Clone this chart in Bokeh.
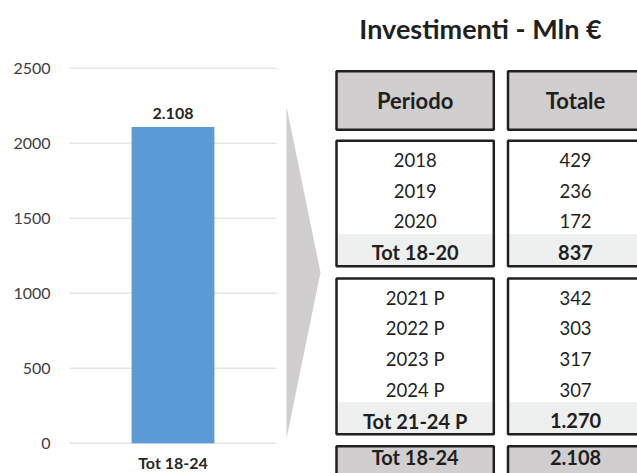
from bokeh.plotting import figure
from bokeh.models import Range1d, ColumnDataSource, FixedTicker, LinearAxis
from bokeh.core.properties import value
from bokeh.embed import file_html
from bokeh.resources import INLINE

# ---------------- data ----------------
categories = ["Tot 18-24"]
investimenti = [2108]
y_ticks = [0, 500, 1000, 1500, 2000, 2500]

title_text = "Investimenti - Mln €"
header_labels = ["Periodo", "Totale"]

periodi_1 = ["2018", "2019", "2020"]
totali_1 = [429, 236, 172]
tot_label_1 = "Tot 18-20"
tot_value_1 = 837

periodi_2 = ["2021 P", "2022 P", "2023 P", "2024 P"]
totali_2 = [342, 303, 317, 307]
tot_label_2 = "Tot 21-24 P"
tot_value_2 = 1270

grand_label = "Tot 18-24"
grand_value = 2108


def fmt(v):
    return f"{v:,}".replace(",", ".")


FONT = "Lato"
TXT = "#1f1f1f"
BORDER = "#231f20"
HEAD_FILL = "#d0cece"
SHADE_FILL = "#eef0ef"

W, H = 637, 473
LEFT = 69
p = figure(width=W, height=H, x_range=Range1d(LEFT, W), y_range=Range1d(H, 0),
           output_backend="svg", toolbar_location=None,
           x_axis_location=None, y_axis_location=None,
           min_border_left=LEFT, min_border_right=0, min_border_top=0,
           min_border_bottom=0)
p.outline_line_color = None
p.grid.visible = False

# bar-chart scales: category index 0 spans pixels 69..276,
# value 0 at y=442.7 and 2500 at y=67.7
px_per_cat = 207.0
p.extra_x_ranges = {"barx": Range1d(-0.5, -0.5 + (W - LEFT) / px_per_cat)}
px_per_val = 375.0 / 2500.0
v0 = -(H - 442.7) / px_per_val
p.extra_y_ranges = {"bary": Range1d(v0, v0 + H / px_per_val)}

yaxis = LinearAxis(y_range_name="bary", ticker=FixedTicker(ticks=y_ticks))
yaxis.axis_line_color = None
yaxis.major_tick_line_color = None
yaxis.minor_tick_line_color = None
yaxis.major_label_text_font = FONT
yaxis.major_label_text_font_size = "16px"
yaxis.major_label_text_color = "#404040"
yaxis.major_label_standoff = 13
p.add_layout(yaxis, "left")

# gridlines
p.segment(x0=[-0.5] * len(y_ticks), x1=[0.5] * len(y_ticks), y0=y_ticks,
          y1=y_ticks, x_range_name="barx", y_range_name="bary",
          line_color="#d9d9d9", line_width=1)

xs = list(range(len(categories)))
src = ColumnDataSource(dict(x=xs, top=investimenti, cat=categories,
                            zero=[0] * len(categories),
                            lab=[fmt(v) for v in investimenti]))
p.vbar(x="x", top="top", width=0.4, source=src, fill_color="#5b9bd5",
       line_color=None, x_range_name="barx", y_range_name="bary")
p.text(x="x", y="top", text="lab", source=src, text_align="center",
       text_baseline="bottom", y_offset=-8, text_font=value(FONT),
       text_font_style="bold", text_font_size="16px", text_color="#262626",
       x_range_name="barx", y_range_name="bary")
p.text(x="x", y="zero", text="cat", source=src, text_align="center",
       text_baseline="middle", y_offset=19, text_font=value(FONT),
       text_font_style="bold", text_font_size="16px", text_color="#262626",
       x_range_name="barx", y_range_name="bary")

# ---------------- table (pixel coordinates) ----------------
p.patch([286, 320, 286], [106, 272, 438], fill_color="#d0cece",
        line_color=None)

c1l, c1r = 336, 493.3
c2l, c2r = 507.5, 650
c1 = (c1l + c1r) / 2
c2 = 575

head = (70.7, 129.3)
g1 = (140.3, 265.7)
g2 = (278.0, 433.7)
g3 = (445.7, 490)
ROW = 30.8

for (t, b), fill in ((head, HEAD_FILL), (g3, HEAD_FILL)):
    p.quad(left=[c1l, c2l], right=[c1r, c2r], top=[t, t], bottom=[b, b],
           fill_color=fill, line_color=None)
for (t, b) in (g1, g2):
    p.quad(left=[c1l, c2l], right=[c1r, c2r], top=[t, t], bottom=[b, b],
           fill_color="white", line_color=None)
    p.quad(left=[c1l, c2l], right=[c1r, c2r], top=[b - ROW - 1.5] * 2,
           bottom=[b, b], fill_color=SHADE_FILL, line_color=None)
for (t, b) in (head, g1, g2, g3):
    p.quad(left=[c1l, c2l], right=[c1r, c2r], top=[t, t], bottom=[b, b],
           fill_color=None, line_color=BORDER, line_width=2.5)


def txt(xs_, ys_, texts, bold=False, size="18px"):
    p.text(x=xs_, y=ys_, text=texts, text_align="center",
           text_baseline="middle", text_font=value(FONT),
           text_font_style="bold" if bold else "normal",
           text_font_size=size, text_color=TXT)


txt([480], [28], [title_text], bold=True, size="27px")
hy = (head[0] + head[1]) / 2
txt([c1, c2], [hy, hy], header_labels, bold=True, size="22px")

ys1 = [g1[0] + 19 + i * ROW for i in range(len(periodi_1))]
txt([c1] * len(periodi_1), ys1, periodi_1, size="18.5px")
txt([c2] * len(totali_1), ys1, [fmt(v) for v in totali_1], size="18.5px")
yt1 = g1[0] + 19 + len(periodi_1) * ROW
txt([c1, c2], [yt1, yt1], [tot_label_1, fmt(tot_value_1)], bold=True,
    size="20px")

ys2 = [g2[0] + 19 + i * ROW for i in range(len(periodi_2))]
txt([c1] * len(periodi_2), ys2, periodi_2, size="18.5px")
txt([c2] * len(totali_2), ys2, [fmt(v) for v in totali_2], size="18.5px")
yt2 = g2[0] + 19 + len(periodi_2) * ROW
txt([c1, c2], [yt2, yt2], [tot_label_2, fmt(tot_value_2)], bold=True,
    size="20px")

yg = g3[0] + 11
txt([c1, c2], [yg, yg], [grand_label, fmt(grand_value)], bold=True,
    size="20px")

open("out.html", "w").write(file_html(p, INLINE))
